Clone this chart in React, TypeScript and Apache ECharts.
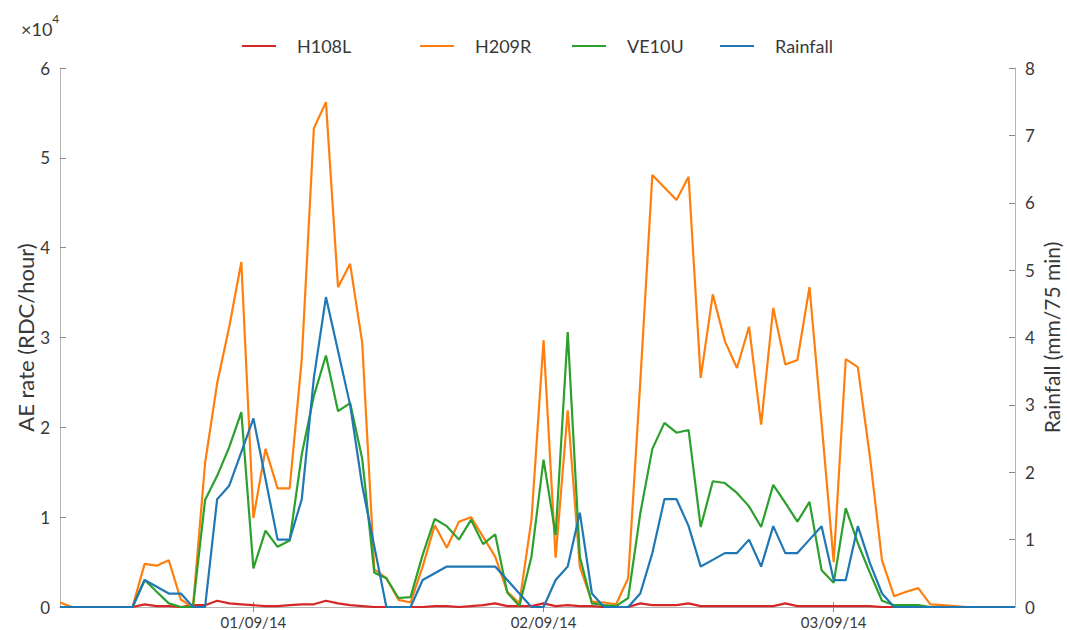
import React, { useEffect, useRef } from "react";
import * as echarts from "echarts";

// hourly samples starting 31/08/14 08:00
const START_DAY = 31;
const START_HOUR = 8;
const N = 80;
const categories: string[] = [];
for (let i = 0; i < N; i++) {
  const h = START_HOUR + i;
  const dayOffset = Math.floor(h / 24);
  const hour = h % 24;
  const day = START_DAY + dayOffset;
  const dd = day > 31 ? day - 31 : day;
  const mm = day > 31 ? "09" : "08";
  categories.push(
    `${String(dd).padStart(2, "0")}/${mm}/14 ${String(hour).padStart(2, "0")}:00`
  );
}

// AE rate, units of 10^4 RDC/hour
const H108L = [
  0, 0, 0, 0, 0, 0, 0, 0.03, 0.01, 0.01, 0, 0.02, 0.02, 0.07, 0.04, 0.03,
  0.02, 0.01, 0.01, 0.02, 0.03, 0.03, 0.07, 0.04, 0.02, 0.01, 0, 0, 0, 0,
  0, 0.01, 0.01, 0, 0.01, 0.02, 0.04, 0.01, 0.01, 0.01, 0.04, 0.01, 0.02, 0.01, 0.01, 0,
  0, 0, 0.04, 0.02, 0.02, 0.02, 0.04, 0.01, 0.01, 0.01, 0.01, 0.01, 0.01, 0.01,
  0.04, 0.01, 0.01, 0.01, 0.01, 0.01, 0.01, 0.01, 0, 0, 0, 0, 0, 0, 0, 0,
  0, 0, 0, 0,
];
const H209R = [
  0.05, 0, 0, 0, 0, 0, 0, 0.48, 0.46, 0.52, 0.08, 0, 1.6, 2.49, 3.12, 3.84,
  0.99, 1.76, 1.32, 1.32, 2.76, 5.33, 5.62, 3.56, 3.82, 2.94, 0.42, 0.32, 0.08, 0.05,
  0.45, 0.91, 0.66, 0.95, 1.0, 0.78, 0.56, 0.17, 0.04, 0.97, 2.97, 0.55, 2.19, 0.45,
  0.06, 0.05, 0.03, 0.32, 2.5, 4.81, 4.67, 4.53, 4.79, 2.55, 3.48, 2.96, 2.66, 3.12,
  2.03, 3.33, 2.7, 2.75, 3.56, 2.05, 0.5, 2.76, 2.67, 1.67, 0.52, 0.12, 0.17, 0.21,
  0.03, 0.02, 0.01, 0, 0, 0, 0, 0,
];
const VE10U = [
  0, 0, 0, 0, 0, 0, 0, 0.3, 0.17, 0.04, 0, 0, 1.19, 1.46, 1.78, 2.17,
  0.43, 0.85, 0.67, 0.74, 1.7, 2.35, 2.8, 2.18, 2.27, 1.65, 0.38, 0.32, 0.1, 0.11,
  0.58, 0.98, 0.9, 0.75, 0.97, 0.7, 0.81, 0.16, 0.01, 0.56, 1.64, 0.8, 3.06, 0.56,
  0.04, 0.02, 0.01, 0.1, 1.04, 1.76, 2.05, 1.94, 1.97, 0.89, 1.4, 1.38, 1.27, 1.12,
  0.89, 1.36, 1.16, 0.95, 1.17, 0.41, 0.27, 1.1, 0.71, 0.38, 0.07, 0.02, 0.02, 0.02,
  0, 0, 0, 0, 0, 0, 0, 0,
];
// Rainfall, mm / 75 min
const RAINFALL = [
  0, 0, 0, 0, 0, 0, 0, 0.4, 0.3, 0.2, 0.2, 0, 0, 1.6, 1.8, 2.3,
  2.8, 1.9, 1.0, 1.0, 1.6, 3.4, 4.6, 3.8, 3.0, 1.8, 0.9, 0, 0, 0,
  0.4, 0.5, 0.6, 0.6, 0.6, 0.6, 0.6, 0.4, 0.2, 0, 0, 0.4, 0.6, 1.4,
  0.2, 0, 0, 0, 0.2, 0.8, 1.6, 1.6, 1.2, 0.6, 0.7, 0.8, 0.8, 1.0,
  0.6, 1.2, 0.8, 0.8, 1.0, 1.2, 0.4, 0.4, 1.2, 0.65, 0.2, 0, 0, 0,
  0, 0, 0, 0, 0, 0, 0, 0,
];

const SERIES_NAMES = ["H108L", "H209R", "VE10U", "Rainfall"];
const AE_TICKS = [0, 1, 2, 3, 4, 5, 6];
const RAIN_TICKS = [0, 1, 2, 3, 4, 5, 6, 7, 8];

const SCALE = 10000;
const FONT = "Lato, 'Open Sans', sans-serif";
const TEXT = "#383838";
const AXIS = "#b5b5b5";
const LEGEND_LEFT = [237, 415, 567, 715];

const isDayTick = (idx: number) => categories[idx].endsWith("00:00");

export default function App() {
  const ref = useRef<HTMLDivElement>(null);
  useEffect(() => {
    if (!ref.current) return;
    const chart = echarts.init(ref.current, undefined, { renderer: "svg" });
    const mk = (name: string, vals: number[], color: string, yIdx: number, scale: number) => ({
      name,
      type: "line",
      yAxisIndex: yIdx,
      xAxisIndex: 0,
      data: vals.map((v) => v * scale),
      symbol: "none",
      lineStyle: { color, width: 2.2 },
      itemStyle: { color },
      z: 2,
    });
    chart.setOption({
      animation: false,
      textStyle: { fontFamily: FONT },
      grid: { left: 60, right: 52, top: 68, bottom: 23, containLabel: false, outerBoundsMode: "none" },
      legend: SERIES_NAMES.map((n, i) => ({
        top: 32,
        left: LEGEND_LEFT[i],
        icon: "rect",
        itemWidth: 34,
        itemHeight: 2,
        textStyle: { fontSize: 18, color: TEXT, fontFamily: FONT, padding: [0, 0, 0, 16] },
        data: [n],
      })),
      graphic: [
        {
          type: "text",
          left: 21,
          top: 12,
          style: {
            text: "{a|×10}{b|4}",
            rich: {
              a: { fontSize: 18, fill: TEXT, fontFamily: FONT, verticalAlign: "bottom", lineHeight: 26 },
              b: { fontSize: 12, fill: TEXT, fontFamily: FONT, verticalAlign: "top", padding: [0, 0, 12, 0], lineHeight: 26 },
            },
          },
        },
      ],
      xAxis: [
        {
          type: "category",
          data: categories,
          boundaryGap: false,
          axisLine: { show: true, lineStyle: { color: AXIS, width: 1 } },
          axisTick: { show: true, inside: true, length: 5, interval: (i: number) => isDayTick(i), lineStyle: { color: "#888" } },
          axisLabel: {
            interval: (i: number) => isDayTick(i),
            formatter: (v: string) => v.split(" ")[0],
            fontSize: 15,
            color: TEXT,
            margin: 7,
            fontFamily: FONT,
          },
          splitLine: { show: false },
        },
        {
          type: "category",
          data: categories,
          position: "top",
          boundaryGap: false,
          axisLine: { show: true, lineStyle: { color: AXIS, width: 1 } },
          axisTick: { show: true, inside: true, length: 5, interval: (i: number) => isDayTick(i), lineStyle: { color: "#888" } },
          axisLabel: { show: false },
          splitLine: { show: false },
        },
      ],
      yAxis: [
        {
          type: "value",
          min: 0,
          max: AE_TICKS[AE_TICKS.length - 1] * SCALE,
          interval: SCALE,
          position: "left",
          name: "AE rate (RDC/hour)",
          nameLocation: "middle",
          nameGap: 24,
          nameMoveOverlap: false,
          nameTextStyle: { fontSize: 22, color: TEXT, fontFamily: FONT },
          axisLine: { show: true, lineStyle: { color: AXIS, width: 1 } },
          axisTick: { show: true, inside: true, length: 6, lineStyle: { color: "#888" } },
          axisLabel: { formatter: (v: number) => String(v / SCALE), fontSize: 17, color: TEXT, margin: 10, fontFamily: FONT },
          splitLine: { show: false },
        },
        {
          type: "value",
          min: 0,
          max: RAIN_TICKS[RAIN_TICKS.length - 1],
          interval: 1,
          position: "right",
          name: "Rainfall (mm/75 min)",
          nameLocation: "middle",
          nameGap: 26,
          nameMoveOverlap: false,
          nameRotate: 90,
          nameTextStyle: { fontSize: 21, color: TEXT, fontFamily: FONT },
          axisLine: { show: true, lineStyle: { color: AXIS, width: 1 } },
          axisTick: { show: true, inside: true, length: 6, lineStyle: { color: "#888" } },
          axisLabel: { fontSize: 17, color: TEXT, margin: 10, fontFamily: FONT },
          splitLine: { show: false },
        },
      ],
      series: [
        mk("H108L", H108L, "#d62728", 0, SCALE),
        mk("H209R", H209R, "#ff7f0e", 0, SCALE),
        mk("VE10U", VE10U, "#2ca02c", 0, SCALE),
        mk("Rainfall", RAINFALL, "#1f77b4", 1, 1),
      ],
    });
    return () => chart.dispose();
  }, []);
  return (
    <div
      ref={ref}
      style={{ position: "absolute", left: 0, top: 0, width: 1067, height: 630, background: "#fff" }}
    />
  );
}
